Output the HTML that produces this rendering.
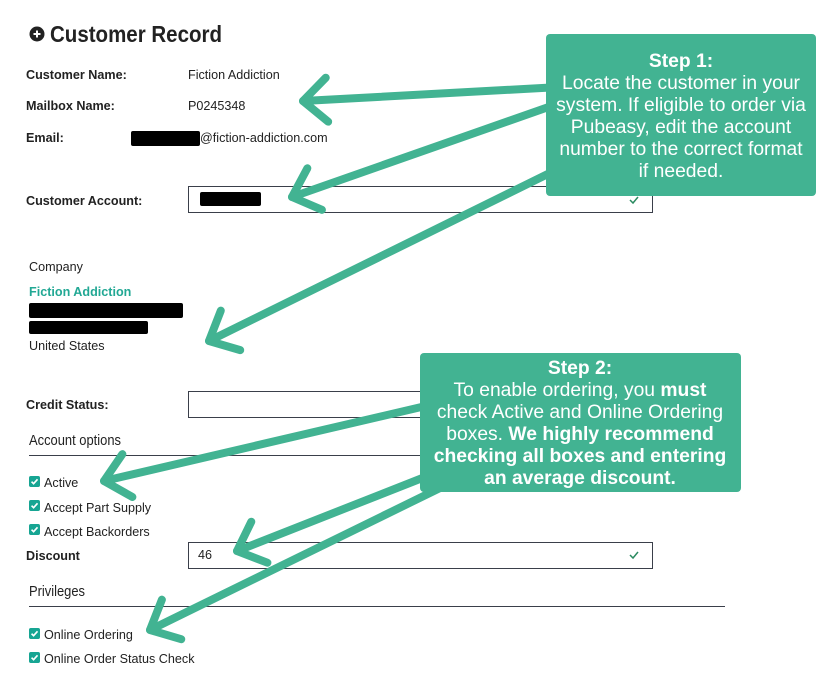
<!DOCTYPE html>
<html><head><meta charset="utf-8"><style>
html,body{margin:0;padding:0;background:#fff;}
svg{display:block;}
text{font-family:"Liberation Sans",Arial,sans-serif;}
.lb{font-size:12.6px;font-weight:bold;fill:#222;}
.v{font-size:12.6px;fill:#222;}
.h{font-size:15px;fill:#222;}
.w{font-size:19.3px;fill:#fff;}
.wb{font-size:19.3px;fill:#fff;font-weight:bold;}
</style></head><body>
<svg width="818" height="679" viewBox="0 0 818 679" xmlns="http://www.w3.org/2000/svg">
<defs>
<marker id="ah" markerUnits="userSpaceOnUse" markerWidth="60" markerHeight="60" refX="30" refY="30" orient="auto" viewBox="0 0 60 60">
<path d="M6,8 L30,30 L6,52" fill="none" stroke="#42b392" stroke-width="8" stroke-linecap="round" stroke-linejoin="round"/>
</marker>
<symbol id="cb" viewBox="0 0 12 12"><rect x="0" y="0" width="12" height="12" rx="2" fill="#17a593"/><path d="M2.8,6.2 L5,8.4 L9.3,3.6" fill="none" stroke="#fff" stroke-width="1.8"/></symbol>
</defs>
<rect width="818" height="679" fill="#fff"/>
<circle cx="37" cy="34" r="7.5" fill="#222"/>
<path d="M33.5,34 H40.5 M37,30.5 V37.5" stroke="#fff" stroke-width="2"/>
<text x="50" y="42" textLength="172" lengthAdjust="spacingAndGlyphs" style="font-size:23px;font-weight:bold;fill:#222">Customer Record</text>

<text class="lb" x="26" y="79">Customer Name:</text>
<text class="v" x="188" y="79">Fiction Addiction</text>
<text class="lb" x="26" y="110">Mailbox Name:</text>
<text class="v" x="188" y="110">P0245348</text>
<text class="lb" x="26" y="142">Email:</text>
<rect x="131" y="131" width="69" height="15" rx="2" fill="#000"/>
<text class="v" x="200" y="142">@fiction-addiction.com</text>

<text class="lb" x="26" y="205">Customer Account:</text>
<rect x="188.5" y="186.5" width="464" height="26" fill="#fff" stroke="#3a3f4a"/>
<rect x="200" y="192" width="61" height="14" rx="2" fill="#000"/>
<path d="M630,200 L633,203 L638,197" fill="none" stroke="#2a8a60" stroke-width="1.5"/>

<text class="v" x="29" y="271">Company</text>
<text x="29" y="296" style="font-size:12.6px;font-weight:bold;fill:#22a894">Fiction Addiction</text>
<rect x="29" y="303" width="154" height="15" rx="2" fill="#000"/>
<rect x="29" y="321" width="119" height="13" rx="2" fill="#000"/>
<text class="v" x="29" y="350">United States</text>

<text class="lb" x="26" y="409">Credit Status:</text>
<rect x="188.5" y="391.5" width="464" height="26" fill="#fff" stroke="#3a3f4a"/>

<text class="h" x="29" y="445" textLength="92" lengthAdjust="spacingAndGlyphs">Account options</text>
<line x1="29" y1="455.5" x2="725" y2="455.5" stroke="#3a3f4a"/>
<use href="#cb" x="29" y="476" width="11" height="11"/>
<text class="v" x="44" y="487">Active</text>
<use href="#cb" x="29" y="500" width="11" height="11"/>
<text class="v" x="44" y="512">Accept Part Supply</text>
<use href="#cb" x="29" y="524" width="11" height="11"/>
<text class="v" x="44" y="536">Accept Backorders</text>

<text class="lb" x="26" y="560">Discount</text>
<rect x="188.5" y="542.5" width="464" height="26" fill="#fff" stroke="#3a3f4a"/>
<text class="v" x="198" y="559">46</text>
<path d="M630,555 L633,558 L638,552" fill="none" stroke="#2a8a60" stroke-width="1.5"/>

<text class="h" x="29" y="596" textLength="56" lengthAdjust="spacingAndGlyphs">Privileges</text>
<line x1="29" y1="606.5" x2="725" y2="606.5" stroke="#3a3f4a"/>
<use href="#cb" x="29" y="628" width="11" height="11"/>
<text class="v" x="44" y="639">Online Ordering</text>
<use href="#cb" x="29" y="652" width="11" height="11"/>
<text class="v" x="44" y="663">Online Order Status Check</text>

<g fill="none" stroke="#42b392" stroke-width="8" stroke-linecap="round">
<line x1="560" y1="87" x2="303" y2="101" marker-end="url(#ah)"/>
<line x1="560" y1="103" x2="292" y2="197" marker-end="url(#ah)"/>
<line x1="560" y1="168" x2="209" y2="341" marker-end="url(#ah)"/>
<line x1="430" y1="405" x2="104" y2="481" marker-end="url(#ah)"/>
<line x1="430" y1="475" x2="237" y2="551" marker-end="url(#ah)"/>
<line x1="440" y1="488" x2="150" y2="630" marker-end="url(#ah)"/>
</g>

<rect x="546" y="34" width="270" height="162" rx="4" fill="#42b392"/>
<text text-anchor="middle" x="681" y="67" class="wb">Step 1:</text>
<text text-anchor="middle" x="681" y="89" class="w">Locate the customer in your</text>
<text text-anchor="middle" x="681" y="111" class="w">system. If eligible to order via</text>
<text text-anchor="middle" x="681" y="133" class="w">Pubeasy, edit the account</text>
<text text-anchor="middle" x="681" y="155" class="w">number to the correct format</text>
<text text-anchor="middle" x="681" y="177" class="w">if needed.</text>

<rect x="420" y="353" width="321" height="139" rx="4" fill="#42b392"/>
<text text-anchor="middle" x="580" y="374" class="wb">Step 2:</text>
<text text-anchor="middle" x="580" y="396" class="w">To enable ordering, you <tspan font-weight="bold">must</tspan></text>
<text text-anchor="middle" x="580" y="418" class="w">check Active and Online Ordering</text>
<text text-anchor="middle" x="580" y="440" class="w">boxes. <tspan font-weight="bold">We highly recommend</tspan></text>
<text text-anchor="middle" x="580" y="462" class="wb">checking all boxes and entering</text>
<text text-anchor="middle" x="580" y="484" class="wb">an average discount.</text>
</svg>
</body></html>
